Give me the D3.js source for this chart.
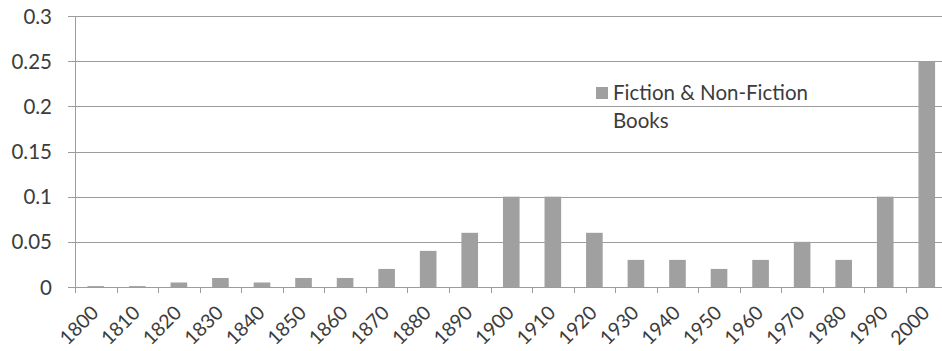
<!DOCTYPE html>
<html>
<head>
<meta charset="utf-8">
<script src="https://cdn.jsdelivr.net/npm/d3@7"></script>
<style>
  html, body { margin: 0; padding: 0; background: #fff; }
  svg { display: block; }
  text { font-family: Lato, "Open Sans", sans-serif; fill: #3c3c3c; }
</style>
</head>
<body>
<svg id="chart" width="942" height="351"></svg>
<script>
// Decades on the category axis
const decades = ["1800","1810","1820","1830","1840","1850","1860","1870","1880","1890",
                 "1900","1910","1920","1930","1940","1950","1960","1970","1980","1990","2000"];
// Share of fiction & non-fiction books per decade
const bookShare = [0.001,0.001,0.005,0.01,0.005,0.01,0.01,0.02,0.04,0.06,
                   0.1,0.1,0.06,0.03,0.03,0.02,0.03,0.05,0.03,0.1,0.25];
// Value axis ticks
const yTicks = [0, 0.05, 0.1, 0.15, 0.2, 0.25, 0.3];
const yTickLabels = ["0","0.05","0.1","0.15","0.2","0.25","0.3"];
const seriesName = ["Fiction & Non-Fiction", "Books"];

const svg = d3.select("#chart");
const plotLeft = 75, plotTop = 16, plotBottom = 287;
const step = 41.55;
const plotRight = plotLeft + step * decades.length;

const x = d3.scaleBand().domain(decades).range([plotLeft, plotRight]).padding(0);
const y = d3.scaleLinear().domain([0, 0.3]).range([plotBottom, plotTop]);

const gridColor = "#9c9c9c";
const textSize = 20.5;
const catTextSize = 19.5;

// Horizontal gridlines with short ticks left of the axis
svg.append("g").selectAll("line").data(yTicks).join("line")
  .attr("x1", plotLeft - 7).attr("x2", 942)
  .attr("y1", d => Math.round(y(d)) + 0.5).attr("y2", d => Math.round(y(d)) + 0.5)
  .attr("stroke", gridColor).attr("stroke-width", 1);

// Value labels
svg.append("g").selectAll("text").data(yTicks).join("text")
  .attr("x", 52).attr("y", d => y(d) + 7.5)
  .attr("text-anchor", "end")
  .style("font-size", textSize + "px")
  .text((d, i) => yTickLabels[i]);

// Bars
const barW = x.bandwidth() * 0.4;
svg.append("g").selectAll("rect").data(bookShare).join("rect")
  .attr("x", (d, i) => x(decades[i]) + (x.bandwidth() - barW) / 2)
  .attr("y", d => y(d))
  .attr("width", barW)
  .attr("height", d => plotBottom - y(d))
  .attr("fill", "#a0a0a0");

// Vertical axis line
svg.append("line")
  .attr("x1", plotLeft + 0.5).attr("x2", plotLeft + 0.5)
  .attr("y1", plotTop).attr("y2", plotBottom + 6)
  .attr("stroke", gridColor);

// Category boundary ticks
const bounds = decades.map(d => x(d)).concat([plotRight]);
svg.append("g").selectAll("line").data(bounds).join("line")
  .attr("x1", d => Math.round(d) + 0.5).attr("x2", d => Math.round(d) + 0.5)
  .attr("y1", plotBottom).attr("y2", plotBottom + 6)
  .attr("stroke", gridColor);

// Rotated category labels
svg.append("g").selectAll("text").data(decades).join("text")
  .attr("text-anchor", "end")
  .attr("transform", d => `translate(${x(d) + x.bandwidth() / 2 + 4},${plotBottom + 27}) rotate(-45)`)
  .style("font-size", catTextSize + "px")
  .text(d => d);

// Legend
const lg = svg.append("g").attr("transform", "translate(596,87)");
lg.append("rect").attr("width", 12).attr("height", 12).attr("fill", "#a0a0a0");
lg.selectAll("text").data(seriesName).join("text")
  .attr("x", 17).attr("y", (d, i) => 12.5 + i * 28)
  .style("font-size", textSize + "px")
  .text(d => d);
</script>
</body>
</html>
